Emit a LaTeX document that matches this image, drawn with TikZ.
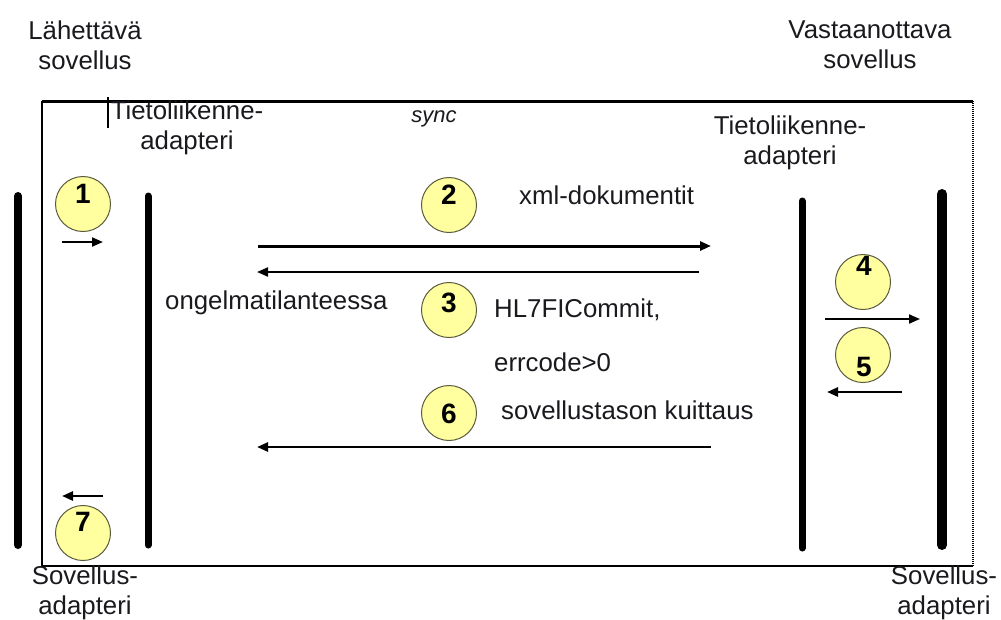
\documentclass[tikz,border=0pt]{standalone}
\usepackage{fontspec}
\setmainfont{Liberation Sans}
\usetikzlibrary{arrows.meta}
\definecolor{circfill}{RGB}{255,255,160}
\definecolor{circline}{RGB}{90,90,60}
\definecolor{txt}{RGB}{25,25,30}
\tikzset{
  lbl/.style={font=\fontsize{25.8}{30}\selectfont, text=txt, inner sep=0pt, align=center},
  lblw/.style={lbl, anchor=west},
  circ/.style={circle, draw=circline, line width=1pt, fill=circfill, minimum size=55pt, inner sep=0pt},
  num/.style={font=\fontsize{28}{30}\selectfont\bfseries, text=black, inner sep=0pt},
  bar/.style={line width=#1, line cap=round},
  msg/.style={line width=#1, -{Triangle[length=11pt,width=9pt]}},
}
\begin{document}
\begin{tikzpicture}[x=1pt,y=-1pt]
\useasboundingbox (0,0) rectangle (1001,619);
% frame
\coordinate (tl) at (42,101);
\coordinate (tr) at (973,101);
\coordinate (bl) at (42,566);
\coordinate (br) at (973,566);
\draw[line width=3pt] (tl) -- (tr);
\draw[line width=1.3pt] (tl) -- (bl);
\draw[line width=2pt] (bl) -- (br);
\draw[line width=2.5pt, dash pattern=on 1pt off 1pt] (tr) -- (br);
\coordinate (tk1) at (108,97);
\coordinate (tk2) at (108,128);
\draw[line width=2pt] (tk1) -- (tk2);
% titles
\node[lbl] (t1) at (85,45) {Lähettävä\\sovellus};
\node[lbl] (t2) at (870,45) {Vastaanottava\\sovellus};
\node[lbl] (t3) at (187,128) {Tietoliikenne-\\adapteri};
\node[lbl] (t4) at (790,143) {Tietoliikenne-\\adapteri};
\node[lbl, font=\fontsize{22}{26}\selectfont\itshape] (sync) at (434,119) {sync};
\node[lbl] (t5) at (85,593) {Sovellus-\\adapteri};
\node[lbl] (t6) at (944,593) {Sovellus-\\adapteri};
% bars
\coordinate (b1a) at (18,196); \coordinate (b1b) at (18,545);
\coordinate (b2a) at (148,196); \coordinate (b2b) at (148,545);
\coordinate (b3a) at (802,201); \coordinate (b3b) at (802,548);
\coordinate (b4a) at (942,194); \coordinate (b4b) at (942,545);
\draw[bar=8pt] (b1a) -- (b1b);
\draw[bar=7pt] (b2a) -- (b2b);
\draw[bar=7pt] (b3a) -- (b3b);
\draw[bar=10pt] (b4a) -- (b4b);
% circles
\node[circ] (c1) at (83,204) {};
\node[circ] (c2) at (449,205) {};
\node[circ] (c3) at (449,310) {};
\node[circ] (c4) at (863,282) {};
\node[circ] (c5) at (863,355) {};
\node[circ] (c6) at (449,413) {};
\node[circ] (c7) at (83,533) {};
\node[num] (n1) at (83,194) {1};
\node[num] (n2) at (449,195) {2};
\node[num] (n3) at (449,303) {3};
\node[num] (n4) at (864,266) {4};
\node[num] (n5) at (864,367) {5};
\node[num] (n6) at (449,414) {6};
\node[num] (n7) at (83,522) {7};
% message labels
\node[lblw] (m2) at (519,195) {xml-dokumentit};
\node[lblw] (m3a) at (165,303) {ongelmatilanteessa};
\node[lblw] (m3b) at (494,310) {HL7FICommit,};
\node[lblw] (m3c) at (494,362) {errcode>0};
\node[lblw] (m6) at (501,410) {sovellustason kuittaus};
% arrows
\coordinate (a1s) at (62,242); \coordinate (a1e) at (103,242);
\coordinate (a2s) at (258,246); \coordinate (a2e) at (711,246);
\coordinate (a3s) at (699,272); \coordinate (a3e) at (257,272);
\coordinate (a4s) at (825,319); \coordinate (a4e) at (920,319);
\coordinate (a5s) at (902,392); \coordinate (a5e) at (827,392);
\coordinate (a6s) at (711,447); \coordinate (a6e) at (257,447);
\coordinate (a7s) at (103,496); \coordinate (a7e) at (62,496);
\draw[msg=2pt] (a1s) -- (a1e);
\draw[msg=3pt] (a2s) -- (a2e);
\draw[msg=2pt] (a3s) -- (a3e);
\draw[msg=2pt] (a4s) -- (a4e);
\draw[msg=2.5pt] (a5s) -- (a5e);
\draw[msg=2.5pt] (a6s) -- (a6e);
\draw[msg=2.5pt] (a7s) -- (a7e);
\end{tikzpicture}
\end{document}
